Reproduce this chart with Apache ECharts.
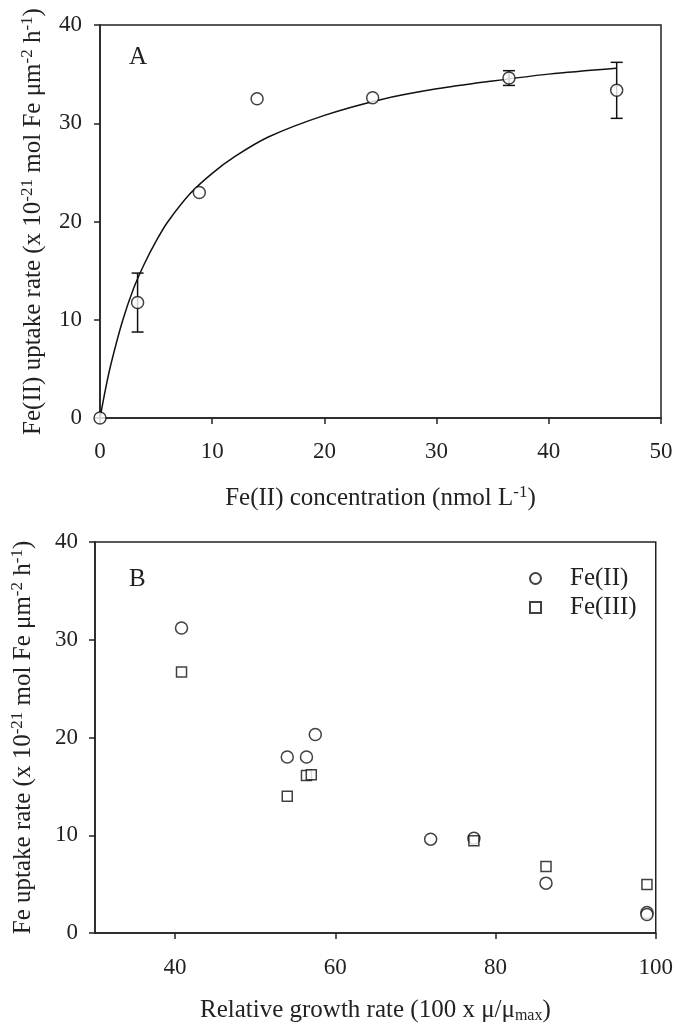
<!DOCTYPE html>
<html><head><meta charset="utf-8">
<script src="https://cdn.jsdelivr.net/npm/echarts@6/dist/echarts.min.js"></script>
<style>html,body{margin:0;padding:0;background:#fff}#c{width:676px;height:1025px}</style>
</head><body><div id="c"></div>
<script>
// Panel A: Fe(II) uptake vs concentration
const concA = [0, 3.35, 8.85, 14.0, 24.3, 36.45, 46.05];
const uptakeA = [0, 11.75, 22.95, 32.5, 32.6, 34.6, 33.35];
const errA = [0, 3.0, 0, 0, 0, 0.75, 2.85];
// fitted curve
const fitConc = [0, 0.5, 1, 2, 3, 4, 5, 6, 8, 10, 12, 15, 20, 25, 30, 35, 40, 46];
const fitUptake = [0, 3.0, 5.6, 9.85, 13.2, 15.8, 18.0, 19.9, 22.8, 24.9, 26.6, 28.6, 30.8, 32.4, 33.5, 34.3, 35.0, 35.6];
// Panel B: uptake vs relative growth rate
const growthFe2 = [40.8, 54.0, 56.4, 57.5, 71.9, 77.3, 86.3, 98.9, 98.9];
const uptakeFe2 = [31.2, 18.0, 18.0, 20.3, 9.6, 9.7, 5.1, 2.1, 1.9];
const growthFe3 = [40.8, 54.0, 56.4, 57.0, 77.3, 86.3, 98.9];
const uptakeFe3 = [26.7, 14.0, 16.1, 16.2, 9.45, 6.8, 4.95];
const ticksBx = [40, 60, 80, 100];

const FF = 'Liberation Serif';
const FS = 23;
const C = '#222';
const chart = echarts.init(document.getElementById('c'));

const rich = {
  n: {fontSize: 25, fontFamily: FF, color: C, lineHeight: 28},
  s: {fontSize: 17, fontFamily: FF, color: C, lineHeight: 15, verticalAlign: 'top'},
  b: {fontSize: 16, fontFamily: FF, color: C, lineHeight: 13, verticalAlign: 'bottom'}
};
function axisCommon(extra) {
  return Object.assign({
    type: 'value',
    axisLine: {show: true, lineStyle: {color: C, width: 1.5}},
    axisTick: {show: true, inside: false, length: 6, lineStyle: {color: C, width: 1.5}},
    splitLine: {show: false},
    nameLocation: 'middle',
    nameMoveOverlap: false,
    nameTextStyle: {rich: rich}
  }, extra);
}
const lbl = (m, extra) => Object.assign({fontFamily: FF, fontSize: FS, color: C, margin: m}, extra || {});

const errData = [];
concA.forEach((x, i) => { if (errA[i] > 0) errData.push([x, uptakeA[i] - errA[i], uptakeA[i] + errA[i]]); });

const option = {
  backgroundColor: '#fff',
  animation: false,
  title: [
    {text: 'A', left: 129, top: 45, padding: 0, textStyle: {fontFamily: FF, fontSize: 25, fontWeight: 'normal', color: C}},
    {text: 'B', left: 129, top: 567, padding: 0, textStyle: {fontFamily: FF, fontSize: 25, fontWeight: 'normal', color: C}}
  ],
  legend: {
    data: [{name: 'Fe(II)', icon: 'circle'}, {name: 'Fe(III)', icon: 'rect'}],
    orient: 'vertical', left: 524, top: 561, itemWidth: 11, itemHeight: 11, itemGap: 4,
    textStyle: {fontFamily: FF, fontSize: 25, color: C, padding: [0, 0, 0, 24]}
  },
  grid: [
    {left: 100, top: 25, width: 561, height: 393, show: true, borderColor: C, borderWidth: 1.5, backgroundColor: 'transparent'},
    {left: 95, top: 542, width: 561, height: 391, show: true, borderColor: C, borderWidth: 1.5, backgroundColor: 'transparent'}
  ],
  xAxis: [
    axisCommon({gridIndex: 0, min: 0, max: 50, interval: 10, axisLabel: lbl(22),
      name: '{n|Fe(II) concentration (nmol L}{s|-1}{n|)}', nameGap: 66}),
    axisCommon({gridIndex: 1, min: 30, max: 100,
      axisTick: {show: true, length: 6, customValues: ticksBx, lineStyle: {color: C, width: 1.5}},
      axisLabel: lbl(23, {customValues: ticksBx}),
      name: '{n|Relative growth rate (100 x μ/μ}{b|max}{n|)}', nameGap: 63})
  ],
  yAxis: [
    axisCommon({gridIndex: 0, min: 0, max: 40, interval: 10, axisLabel: lbl(18),
      name: '{n|Fe(II) uptake rate (x 10}{s|-21}{n| mol Fe μm}{s|-2}{n| h}{s|-1}{n|)}', nameGap: 53, nameRotate: 90}),
    axisCommon({gridIndex: 1, min: 0, max: 40, interval: 10, axisLabel: lbl(17),
      name: '{n|Fe uptake rate (x 10}{s|-21}{n| mol Fe μm}{s|-2}{n| h}{s|-1}{n|)}', nameGap: 58, nameRotate: 90})
  ],
  series: [
    {type: 'line', xAxisIndex: 0, yAxisIndex: 0, data: fitConc.map((x, i) => [x, fitUptake[i]]),
      smooth: 0.3, showSymbol: false, lineStyle: {color: '#111', width: 1.5}, z: 2, silent: true},
    {type: 'custom', xAxisIndex: 0, yAxisIndex: 0, data: errData, z: 3, clip: false,
      renderItem: function (params, api) {
        const x = api.value(0);
        const lo = api.coord([x, api.value(1)]);
        const hi = api.coord([x, api.value(2)]);
        const hw = 6;
        const st = {stroke: '#111', lineWidth: 1.5};
        return {type: 'group', children: [
          {type: 'line', shape: {x1: lo[0], y1: lo[1], x2: hi[0], y2: hi[1]}, style: st},
          {type: 'line', shape: {x1: lo[0] - hw, y1: lo[1], x2: lo[0] + hw, y2: lo[1]}, style: st},
          {type: 'line', shape: {x1: hi[0] - hw, y1: hi[1], x2: hi[0] + hw, y2: hi[1]}, style: st}
        ]};
      }},
    {type: 'scatter', name: 'A', xAxisIndex: 0, yAxisIndex: 0, data: concA.map((x, i) => [x, uptakeA[i]]),
      symbol: 'circle', symbolSize: 12, clip: false, z: 5,
      itemStyle: {color: '#fff', borderColor: '#111', borderWidth: 1.5}},
    {type: 'scatter', name: 'Fe(II)', xAxisIndex: 1, yAxisIndex: 1, data: growthFe2.map((x, i) => [x, uptakeFe2[i]]),
      symbol: 'circle', symbolSize: 12, clip: false, z: 5,
      itemStyle: {color: '#fff', borderColor: '#111', borderWidth: 1.5}},
    {type: 'scatter', name: 'Fe(III)', xAxisIndex: 1, yAxisIndex: 1, data: growthFe3.map((x, i) => [x, uptakeFe3[i]]),
      symbol: 'rect', symbolSize: 10, clip: false, z: 5,
      itemStyle: {color: '#fff', borderColor: '#111', borderWidth: 1.5}}
  ]
};
chart.setOption(option);
</script></body></html>
